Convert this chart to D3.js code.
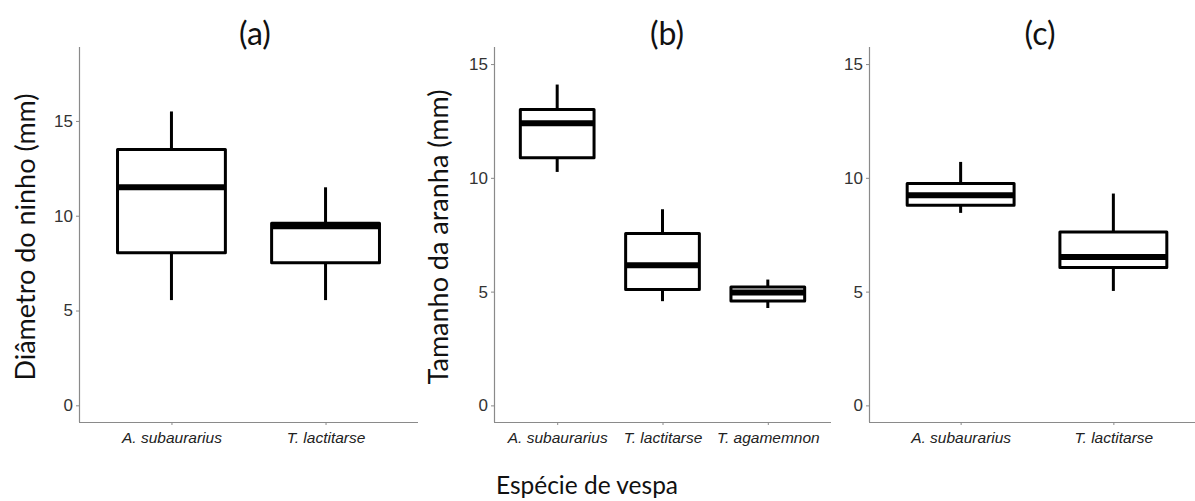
<!DOCTYPE html>
<html>
<head>
<meta charset="utf-8">
<script src="https://cdn.jsdelivr.net/npm/d3@7"></script>
<style>
  body { margin: 0; background: #fff; }
  svg { font-family: Lato, "Open Sans", sans-serif; }
</style>
</head>
<body>
<svg id="chart" width="1195" height="501"></svg>
<script>
// panel (a): nest diameter
let nest_species = ['A. subaurarius', 'T. lactitarse'];
// [low whisker, q1, median, q3, high whisker]
let nest_stats = [[5.55, 8.05, 11.5, 13.5, 15.5], [5.55, 7.52, 9.45, 9.6, 11.5]];

// panel (b): spider size
let spider_species = ['A. subaurarius', 'T. lactitarse', 'T. agamemnon'];
let spider_stats = [[10.26, 10.88, 12.4, 13.0, 14.1], [4.58, 5.09, 6.16, 7.55, 8.62], [4.28, 4.59, 4.96, 5.2, 5.53]];

// panel (c)
let c_species = ['A. subaurarius', 'T. lactitarse'];
let c_stats = [[8.46, 8.8, 9.24, 9.75, 10.7], [5.03, 6.06, 6.52, 7.62, 9.31]];

let y_ticks = [0, 5, 10, 15];
let titles = ['(a)', '(b)', '(c)'];
let y_labels = ['Diâmetro do ninho (mm)', 'Tamanho da aranha (mm)'];
let x_label = 'Espécie de vespa';

let svg = d3.select('#chart');

let panels = [
    {species: nest_species, stats: nest_stats, x0: 79, x1: 418, ymax: 18.9, ymin: -0.88, title: titles[0], tx: 255, ylab: y_labels[0], lx: 35},
    {species: spider_species, stats: spider_stats, x0: 494, x1: 831, ymax: 15.75, ymin: -0.73, title: titles[1], tx: 667, ylab: y_labels[1], lx: 448},
    {species: c_species, stats: c_stats, x0: 869, x1: 1205, ymax: 15.75, ymin: -0.73, title: titles[2], tx: 1040, ylab: null}
];

let plotTop = 47, plotBottom = 422;

function draw_panel(p) {
    let g = svg.append('g');

    // discrete scale with 0.6 expansion like ggplot
    let x = d3.scaleLinear()
        .domain([0.4, p.species.length + 0.6])
        .range([p.x0, p.x1]);
    let y = d3.scaleLinear()
        .domain([p.ymin, p.ymax])
        .range([plotBottom, plotTop]);

    let yAxis = g.append('g')
        .attr('transform', 'translate(' + p.x0 + ',0)')
        .call(d3.axisLeft(y).tickValues(y_ticks).tickSize(3).tickPadding(3));
    let xAxis = g.append('g')
        .attr('transform', 'translate(0,' + plotBottom + ')')
        .call(d3.axisBottom(x).tickValues(p.species.map((d, i) => i + 1))
            .tickFormat((d) => p.species[d - 1]).tickSize(3).tickPadding(7));

    [yAxis, xAxis].forEach(function (a) {
        a.select('.domain').attr('stroke', '#8a8a8a').attr('stroke-width', 1.2);
        a.selectAll('.tick line').attr('stroke', '#8a8a8a');
    });
    yAxis.selectAll('text').attr('font-size', '17px').attr('fill', '#333');
    xAxis.selectAll('text').attr('font-size', '15.5px').attr('fill', '#222').style('font-style', 'italic');
    // domain path with outer ticks off
    yAxis.select('.domain').attr('d', 'M0.5,' + plotTop + 'V' + plotBottom);
    xAxis.select('.domain').attr('d', 'M' + p.x0 + ',0.5H' + p.x1);

    let half = 0.35;
    let boxes = g.selectAll('.box')
        .data(p.stats)
        .enter()
        .append('g')
        .attr('class', 'box');

    // whiskers
    boxes.append('line')
        .attr('x1', (d, i) => x(i + 1))
        .attr('x2', (d, i) => x(i + 1))
        .attr('y1', (d) => y(d[4]))
        .attr('y2', (d) => y(d[3]))
        .attr('stroke', '#000')
        .attr('stroke-width', 3);
    boxes.append('line')
        .attr('x1', (d, i) => x(i + 1))
        .attr('x2', (d, i) => x(i + 1))
        .attr('y1', (d) => y(d[1]))
        .attr('y2', (d) => y(d[0]))
        .attr('stroke', '#000')
        .attr('stroke-width', 3);

    boxes.append('rect')
        .attr('x', (d, i) => x(i + 1 - half))
        .attr('width', (d, i) => x(i + 1 + half) - x(i + 1 - half))
        .attr('y', (d) => y(d[3]))
        .attr('height', (d) => y(d[1]) - y(d[3]))
        .attr('fill', '#fff')
        .attr('stroke', '#000')
        .attr('stroke-width', 3)
        .attr('stroke-linejoin', 'round');

    boxes.append('line')
        .attr('x1', (d, i) => x(i + 1 - half))
        .attr('x2', (d, i) => x(i + 1 + half))
        .attr('y1', (d) => y(d[2]))
        .attr('y2', (d) => y(d[2]))
        .attr('stroke', '#000')
        .attr('stroke-width', 6);

    svg.append('text')
        .attr('x', p.tx)
        .attr('y', 45)
        .attr('text-anchor', 'middle')
        .attr('font-size', '32px')
        .attr('fill', '#111')
        .text(p.title);

    if (p.ylab) {
        svg.append('text')
            .attr('transform', 'translate(' + p.lx + ',237) rotate(-90)')
            .attr('text-anchor', 'middle')
            .attr('font-size', '27px')
            .attr('fill', '#111')
            .text(p.ylab);
    }
}

panels.forEach(draw_panel);

svg.append('text')
    .attr('x', 587)
    .attr('y', 494)
    .attr('text-anchor', 'middle')
    .attr('font-size', '24.5px')
    .attr('fill', '#111')
    .text(x_label);
</script>
</body>
</html>
